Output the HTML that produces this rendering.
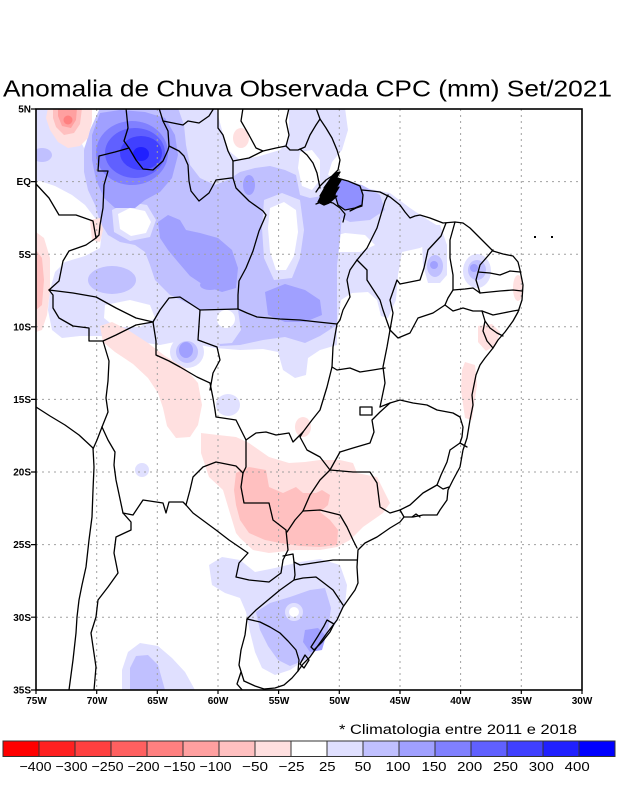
<!DOCTYPE html>
<html><head><meta charset="utf-8"><style>
html,body{margin:0;padding:0;background:#fff;}
svg{display:block;}
</style></head><body>
<svg width="618" height="800" viewBox="0 0 618 800" xmlns="http://www.w3.org/2000/svg" font-family="'Liberation Sans', sans-serif">
<rect width="618" height="800" fill="#fff"/>
<text x="3" y="96.5" font-size="23" textLength="609" lengthAdjust="spacingAndGlyphs" fill="#000">Anomalia de Chuva Observada CPC (mm) Set/2021</text>
<defs><clipPath id="cl"><rect x="36" y="109" width="546" height="581"/></clipPath></defs>
<g clip-path="url(#cl)">
<!-- lavender base -->
<g fill="#e0e0ff">
<polygon points="36,108 216,108 222,130 228,150 240,160 260,156 280,150 289,140 289,108 345,108 348,130 342,150 332,162 328,175 340,180 365,188 390,193 410,208 425,218 438,226 436,240 420,248 402,252 398,275 396,300 388,318 381,316 377,300 368,292 352,293 341,300 337,325 337,345 320,350 308,358 306,375 295,378 283,370 278,352 263,349 240,350 215,348 200,345 190,338 175,342 160,345 140,342 120,338 100,336 80,336 62,338 52,330 48,310 50,290 55,272 65,262 85,256 100,248 102,232 95,218 85,205 72,195 55,186 40,181 36,181"/>
<polygon points="425,225 440,225 447,245 447,275 440,283 428,283 423,265 422,240"/>
<ellipse cx="477" cy="271" rx="14" ry="17"/>
<ellipse cx="187" cy="352" rx="17" ry="16"/>
<ellipse cx="142" cy="470" rx="7" ry="7"/>
<ellipse cx="228" cy="405" rx="12" ry="11"/>
<polygon points="209,565 222,557 240,560 255,572 275,568 300,562 320,559 340,565 347,585 345,605 335,625 320,645 305,660 290,670 275,675 262,668 255,652 250,632 246,612 240,598 225,593 212,585"/>
<polygon points="122,690 122,670 128,652 140,643 158,646 172,658 185,672 195,690"/>
</g>
<!-- white holes -->
<g fill="#fff">
<polygon points="84,108 100,108 96,118 90,135 84,148 80,140 80,120"/>
<polygon points="300,152 312,150 320,160 320,180 312,190 302,186 298,168"/>
<polygon points="328,238 345,233 365,235 375,245 360,252 335,252"/>
<polygon points="105,305 130,300 150,305 155,318 140,327 115,327 104,318"/>
</g>
<!-- light blue -->
<g fill="#c0c0ff">
<polygon points="100,108 178,108 184,125 186,145 190,165 200,178 215,185 228,180 240,172 255,168 270,166 285,170 296,175 300,195 310,198 322,196 335,200 342,215 340,240 337,265 337,300 337,325 320,336 305,343 285,337 263,340 240,345 220,346 214,332 208,316 198,308 185,302 170,295 160,285 155,280 150,265 145,252 135,245 120,242 108,235 100,222 95,205 88,190 84,172 84,150 90,130"/>
<ellipse cx="112" cy="280" rx="24" ry="14"/>
<ellipse cx="42" cy="155" rx="10" ry="7"/>
<polygon points="330,185 345,180 362,185 380,195 385,210 370,220 350,222 335,215 328,200"/>
<ellipse cx="187" cy="352" rx="11" ry="11"/>
<ellipse cx="435" cy="266" rx="8" ry="11"/>
<ellipse cx="477" cy="270" rx="9" ry="10"/>
<polygon points="256,612 270,603 290,597 310,590 325,588 331,608 328,630 318,648 305,660 290,666 278,660 268,646 260,630"/>
<polygon points="130,690 130,668 136,656 148,655 158,665 165,690"/>
</g>
<!-- holes inside blue -->
<polygon fill="#e0e0ff" points="264,200 282,193 300,200 304,230 300,258 292,278 274,280 264,258 262,228"/>
<polygon fill="#fff" points="270,208 284,202 296,210 298,232 294,256 286,270 276,270 270,252 268,228"/>
<polygon fill="#e0e0ff" points="112,210 128,202 147,205 156,220 150,237 130,241 114,232"/>
<polygon fill="#fff" points="118,214 130,208 145,211 151,222 146,233 131,236 120,229"/>
<polygon fill="#e0e0ff" points="200,310 238,310 241,330 232,343 206,345 198,330"/>
<ellipse cx="226" cy="319" rx="9" ry="9" fill="#fff"/>
<ellipse cx="294" cy="612" rx="9" ry="9" fill="#e0e0ff"/>
<ellipse cx="294" cy="612" rx="5" ry="5" fill="#fff"/>
<!-- medium blue -->
<g fill="#a0a0ff">
<polygon points="100,113 120,110 145,112 165,118 175,135 178,155 172,178 160,192 145,200 135,208 115,208 104,198 96,180 92,160 92,135"/>
<polygon points="158,222 168,215 180,220 186,230 200,233 218,238 232,250 238,268 236,288 222,292 205,286 190,276 178,262 168,250 160,238"/>
<polygon points="265,292 285,284 305,290 320,300 322,315 305,322 285,322 268,315"/>
<ellipse cx="249" cy="185" rx="6" ry="10"/>
<ellipse cx="210" cy="285" rx="10" ry="5"/>
<ellipse cx="186" cy="350" rx="7" ry="8"/>
<circle cx="434" cy="265" r="4"/>
<circle cx="474" cy="268" r="4"/>
<polygon points="305,630 318,628 326,636 322,650 310,652 303,642"/>
</g>
<ellipse cx="132" cy="153" rx="36" ry="32" fill="#8080ff"/>
<ellipse cx="135" cy="153" rx="30" ry="25" fill="#6060ff"/>
<ellipse cx="141" cy="153" rx="21" ry="17" fill="#4040ff"/>
<ellipse cx="141" cy="154" rx="8" ry="7" fill="#2020ff"/>
<!-- pinks -->
<g fill="#ffe0e0">
<polygon points="48,108 92,108 92,122 88,138 80,146 68,148 58,142 50,130 46,118"/>
<polygon points="36,232 44,238 50,258 50,290 47,315 42,330 36,332"/>
<polygon points="90,220 100,218 103,230 100,242 92,240"/>
<ellipse cx="241" cy="138" rx="8" ry="10"/>
<polygon points="100,326 112,322 128,330 148,343 165,356 185,368 198,383 202,405 198,425 190,437 176,438 167,426 163,408 158,393 148,378 133,364 115,352 103,342"/>
<polygon points="201,433 218,435 236,437 249,443 269,457 289,463 305,462 320,460 340,460 353,463 357,473 377,477 390,503 383,513 363,527 350,540 337,547 320,550 296,550 269,553 253,550 240,538 236,533 229,510 223,490 209,477 201,453"/>
<ellipse cx="303" cy="427" rx="8" ry="10"/>
<ellipse cx="518" cy="288" rx="5" ry="13"/>
<polygon points="478,326 492,324 500,332 496,345 486,351 478,342"/>
<polygon points="465,362 475,365 477,385 474,405 472,420 465,418 461,390 462,370"/>
</g>
<g fill="#ffc0c0">
<polygon points="53,108 82,108 80,124 74,133 64,135 56,127 53,118"/>
<polygon points="36,250 42,258 44,280 42,305 36,310"/>
<polygon points="236,473 249,467 266,470 269,487 283,493 296,487 303,493 316,493 322,490 330,495 328,505 320,512 330,520 338,530 337,545 320,547 300,546 280,543 265,540 249,533 240,520 236,505 234,490"/>
</g>
<polygon fill="#ffa0a0" points="58,108 77,108 76,120 71,128 62,126 58,116"/>
<circle cx="68" cy="120" r="4.5" fill="#ff8080"/>
<!-- gridlines -->
<g stroke="#a0a0a0" stroke-width="1" stroke-dasharray="2 4" fill="none">
<path d="M96.7,109V690M157.3,109V690M218,109V690M278.6,109V690M339.3,109V690M400,109V690M460.6,109V690M521.3,109V690"/>
<path d="M36,181.6H582M36,254.2H582M36,326.8H582M36,399.4H582M36,472H582M36,544.6H582M36,617.2H582"/>
</g>
<!-- borders -->
<g stroke="#000" stroke-width="1.3" fill="none" stroke-linejoin="round" stroke-linecap="round">
<polyline points="36,407 50,416 65,425 79,435 93,448 94,467 93,490 92,517 89,540 86,567 82,585 79,600 77,617 76,633 73,660 69,690"/>
<polyline points="102,427 97,440 93,449"/>
<polyline points="103,341 109,361 108,381 106,398 108,412 104,422 102,427"/>
<polyline points="102,427 108,440 115,452 114,465 116,480 123,513"/>
<polyline points="123,513 131,522 131,530 116,537 114,553 118,573 108,587 98,600 96,617 91,633 96,667 94,690"/>
<polyline points="123,513 133,515 143,500 163,503 166,513 169,502 183,502 186,505"/>
<polyline points="186,505 190,490 193,477 203,467 216,462 236,466 243,473"/>
<polyline points="186,505 193,513 216,530 229,540 248,553 239,563 236,577 249,580 269,582 281,573 283,560"/>
<polyline points="283,560 288,550 286,530 273,520 269,503 244,503 241,487 243,473"/>
<polyline points="215,410 216,417 236,420 246,440 246,467 243,473"/>
<polyline points="153,322 156,341 156,355 169,361 180,367 197,377 210,383 213,398 215,410"/>
<polyline points="49,290 53,295 53,308 59,318 73,326 89,328 89,341 103,341 116,335 136,325 153,322"/>
<polyline points="49,290 73,293 96,297 116,308 136,318 153,322"/>
<polyline points="96,238 86,245 69,251 63,261 59,281 49,290"/>
<polyline points="36,184 49,198 59,215 76,215 93,221 96,238"/>
<polyline points="129,148 115,152 99,156 98,171 108,171 104,185 103,208 100,225 99,235 96,238"/>
<polyline points="126,108 128,128 124,141 129,148"/>
<polyline points="129,148 136,160 143,169 153,170 163,161 168,150 169,146 168,131 163,121 159,108"/>
<polyline points="163,121 183,125 188,121 199,123 209,116 214,108"/>
<polyline points="218,108 218,128 223,135 228,151 233,161 233,178"/>
<polyline points="233,161 249,158 263,151 276,148 286,146 290,150 298,150 305,147 310,135 316,125 320,119"/>
<polyline points="243,108 241,121 249,135 256,148 263,151"/>
<polyline points="289,108 286,121 289,135 286,146"/>
<polyline points="169,146 179,151 184,156 188,165 189,181 191,191 199,201 209,193 216,180 231,178 233,178"/>
<polyline points="233,178 236,188 249,201 263,211 266,215 259,231 253,251 246,268 239,281 238,295 238,309"/>
<polyline points="300,149 307,155 313,163 317,173 320,188"/>
<polyline points="200,310 238,309"/>
<polyline points="238,309 247,313 257,317 280,319 300,320 318,322 337,324"/>
<polyline points="153,322 160,310 169,298 180,297 200,310"/>
<polyline points="200,310 198,340 217,347 220,360 213,373 210,390"/>
<polyline points="337,324 333,347 332,367"/>
<polyline points="332,367 327,387 320,410 312,420 303,432"/>
<polyline points="246,440 256,433 266,432 276,435 289,433 293,442 303,432"/>
<polyline points="303,432 300,437 307,450 320,457 330,470"/>
<polyline points="330,470 320,480 310,495 303,511"/>
<polyline points="303,511 295,520 287,532"/>
<polyline points="303,511 320,510 340,515 347,527 353,540 357,548"/>
<polyline points="294,562 300,565 313,563 333,560 357,560"/>
<polyline points="294,580 303,578 316,577 320,580 333,590 343,605"/>
<polyline points="283,556 293,554 294,562 295,575 294,580 280,590 268,600 256,610 247,619"/>
<polyline points="247,619 245,635 241,650 239,665 244,681"/>
<polyline points="247,619 260,622 270,627 280,633 288,641 296,650 299,660 298,671"/>
<polyline points="298,671 292,678 284,685 275,688 264,689 255,686 244,681"/>
<polyline points="241,672 237,684 244,692"/>
<polyline points="337,324 340,320 343,310 350,297 347,280 350,270 357,260"/>
<polyline points="357,260 367,248 377,228 385,201 388,195"/>
<polyline points="357,260 367,270 367,280 380,300 383,310 390,330"/>
<polyline points="446,223 441,236 428,250 424,268 420,280 400,284 397,280 390,300 393,313 390,330"/>
<polyline points="390,330 387,347 383,367 385,383 380,407"/>
<polyline points="332,367 337,370 350,368 360,372 373,370 385,368"/>
<polyline points="380,407 390,403"/>
<polyline points="330,470 340,452 353,448 370,443 374,432 372,420 380,412 390,403"/>
<rect x="360" y="407" width="12" height="8"/>
<polyline points="390,403 400,400 413,403 427,405 437,410 453,413 460,417 463,427 462,437 460,443"/>
<polyline points="460,443 467,447"/>
<polyline points="460,443 450,450 447,462 441,475 437,485"/>
<polyline points="437,485 443,489 449,487"/>
<polyline points="437,485 423,493 410,505 400,510"/>
<polyline points="330,470 353,472 370,472 377,483 380,507 390,513 400,510"/>
<polyline points="400,510 404,517"/>
<polyline points="390,330 398,338 410,333 418,318 433,313 445,305"/>
<polyline points="455,222 450,240 450,258 453,275 453,290"/>
<polyline points="453,290 448,298 445,305"/>
<polyline points="445,305 453,311 463,308 473,311 482,311"/>
<polyline points="453,290 465,289 473,288 480,293"/>
<polyline points="493,250 487,257 480,265 476,280 480,293"/>
<polyline points="478,272 490,273 500,275 510,271 520,272"/>
<polyline points="480,293 490,292 500,291 513,290 522,291"/>
<polyline points="482,311 493,315 503,313 513,311 519,310"/>
<polyline points="482,311 485,321 490,328 497,333 503,336"/>
<polyline points="485,321 483,331 487,341 493,348"/>
<polyline points="316,108 320,119 326,128 332,138 337,150 340,160 338,170 332,176 326,180 320,186 316,192"/>
<polyline points="362,190 372,191 380,192 390,197 400,205 405,212 410,218 415,216 420,215 430,218 443,223 455,222 463,223 470,228 480,238 487,245 493,251 503,254 513,256 518,262 520,270 523,285 522,300 518,312 513,321 505,332 498,340 493,348 485,358 480,365 476,375 474,385 472,395 473,405 470,420 467,438 463,450 460,467 453,480 448,490 447,500 440,510 437,515 430,515 423,515 413,517 404,517 400,522 390,528 377,537 365,543 358,550 357,567 358,583 355,590 350,597 343,607 337,620 327,633 317,647 310,657 303,664 298,671"/>
<polygon points="327,620 334,624 330,632 322,642 314,650 311,647 318,636 324,626"/>
<polygon points="305,655 309,660 304,668 300,664"/>
<polyline points="316,204 324,201 333,203 340,208 345,214 343,222"/>
<polyline points="350,211 356,208 362,206"/>
<polygon fill="#9090ff" points="337,178 348,181 360,186 363,195 362,205 355,208 345,210 338,205 335,195 336,185"/>
<path fill="#000" d="M318,202 L323,192 L320,196 L327,184 L324,188 L331,178 L336,173 L340,172 L334,182 L338,178 L341,180 L335,190 L339,187 L333,197 L337,196 L329,203 L324,205 Z"/>
<polyline points="412,517 416,514 420,517"/>
</g>
<rect x="534" y="236" width="2" height="2" fill="#000"/>
<rect x="551" y="236" width="2" height="2" fill="#000"/>
</g>
<!-- frame -->
<rect x="36" y="109" width="546" height="581" fill="none" stroke="#000" stroke-width="1.6"/>
<g stroke="#000" stroke-width="1.2">
<path d="M31,109H36M31,181.6H36M31,254.2H36M31,326.8H36M31,399.4H36M31,472H36M31,544.6H36M31,617.2H36M31,690H36"/>
<path d="M36,690V694M96.7,690V694M157.3,690V694M218,690V694M278.6,690V694M339.3,690V694M400,690V694M460.6,690V694M521.3,690V694M582,690V694"/>
</g>
<g font-size="10" font-weight="bold" text-anchor="end" fill="#000">
<text x="31" y="112.6">5N</text>
<text x="31" y="185.2">EQ</text>
<text x="31" y="257.8">5S</text>
<text x="31" y="330.4">10S</text>
<text x="31" y="403">15S</text>
<text x="31" y="475.6">20S</text>
<text x="31" y="548.2">25S</text>
<text x="31" y="620.8">30S</text>
<text x="31" y="693.6">35S</text>
</g>
<g font-size="10" font-weight="bold" text-anchor="middle" fill="#000">
<text x="36.5" y="704">75W</text>
<text x="97" y="704">70W</text>
<text x="157.5" y="704">65W</text>
<text x="218" y="704">60W</text>
<text x="279" y="704">55W</text>
<text x="339.5" y="704">50W</text>
<text x="400" y="704">45W</text>
<text x="460.5" y="704">40W</text>
<text x="521.5" y="704">35W</text>
<text x="582" y="704">30W</text>
</g>
<text x="339" y="734" font-size="13.5" textLength="238" lengthAdjust="spacingAndGlyphs" fill="#000">* Climatologia entre 2011 e 2018</text>
<!-- colorbar -->
<g stroke="#333" stroke-width="1">
<rect x="3" y="741" width="36" height="15.5" fill="#ff0000"/>
<rect x="39" y="741" width="36" height="15.5" fill="#ff2020"/>
<rect x="75" y="741" width="36" height="15.5" fill="#ff4040"/>
<rect x="111" y="741" width="36" height="15.5" fill="#ff6060"/>
<rect x="147" y="741" width="36" height="15.5" fill="#ff8080"/>
<rect x="183" y="741" width="36" height="15.5" fill="#ffa0a0"/>
<rect x="219" y="741" width="36" height="15.5" fill="#ffc0c0"/>
<rect x="255" y="741" width="36" height="15.5" fill="#ffe0e0"/>
<rect x="291" y="741" width="36" height="15.5" fill="#ffffff"/>
<rect x="327" y="741" width="36" height="15.5" fill="#e0e0ff"/>
<rect x="363" y="741" width="36" height="15.5" fill="#c0c0ff"/>
<rect x="399" y="741" width="36" height="15.5" fill="#a0a0ff"/>
<rect x="435" y="741" width="36" height="15.5" fill="#8080ff"/>
<rect x="471" y="741" width="36" height="15.5" fill="#6060ff"/>
<rect x="507" y="741" width="36" height="15.5" fill="#4040ff"/>
<rect x="543" y="741" width="36" height="15.5" fill="#2020ff"/>
<rect x="579" y="741" width="36" height="15.5" fill="#0000ff"/>
</g>
<g font-size="13" fill="#000" text-anchor="middle">
<text x="35.5" y="771" textLength="32" lengthAdjust="spacingAndGlyphs">−400</text>
<text x="71.5" y="771" textLength="32" lengthAdjust="spacingAndGlyphs">−300</text>
<text x="107.5" y="771" textLength="32" lengthAdjust="spacingAndGlyphs">−250</text>
<text x="143.5" y="771" textLength="32" lengthAdjust="spacingAndGlyphs">−200</text>
<text x="179.5" y="771" textLength="32" lengthAdjust="spacingAndGlyphs">−150</text>
<text x="215.5" y="771" textLength="32" lengthAdjust="spacingAndGlyphs">−100</text>
<text x="255" y="771" textLength="26" lengthAdjust="spacingAndGlyphs">−50</text>
<text x="291.5" y="771" textLength="26" lengthAdjust="spacingAndGlyphs">−25</text>
<text x="327.3" y="771" textLength="16.6" lengthAdjust="spacingAndGlyphs">25</text>
<text x="363" y="771" textLength="16.6" lengthAdjust="spacingAndGlyphs">50</text>
<text x="398" y="771" textLength="25" lengthAdjust="spacingAndGlyphs">100</text>
<text x="434" y="771" textLength="25" lengthAdjust="spacingAndGlyphs">150</text>
<text x="469.7" y="771" textLength="25" lengthAdjust="spacingAndGlyphs">200</text>
<text x="505.5" y="771" textLength="25" lengthAdjust="spacingAndGlyphs">250</text>
<text x="541.3" y="771" textLength="25" lengthAdjust="spacingAndGlyphs">300</text>
<text x="577.2" y="771" textLength="25" lengthAdjust="spacingAndGlyphs">400</text>
</g>
</svg>
</body></html>
